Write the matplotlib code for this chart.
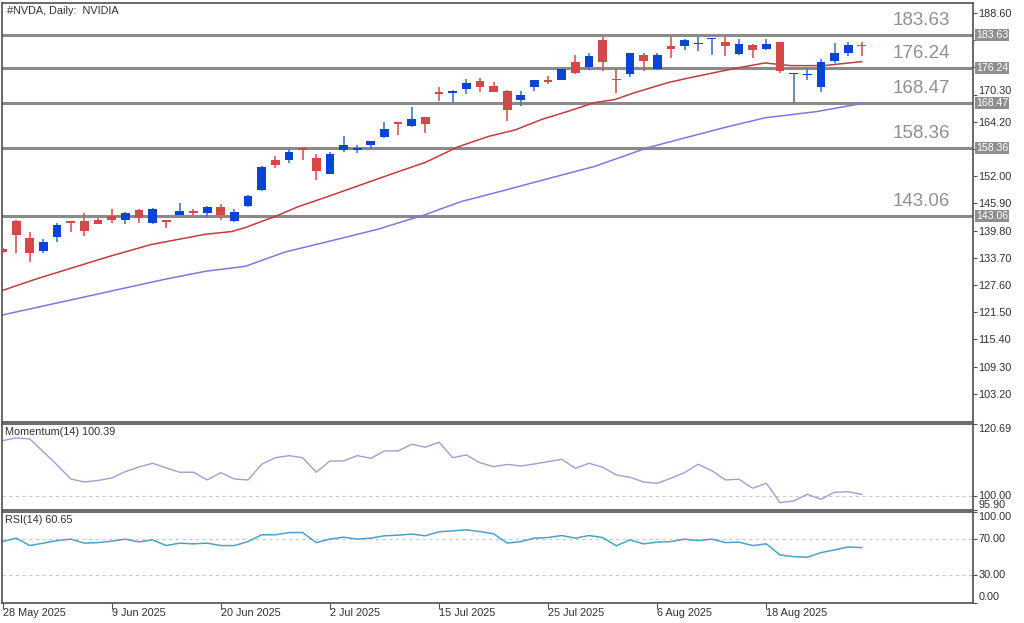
import numpy as np
import matplotlib
matplotlib.use('Agg')
import matplotlib.pyplot as plt
import matplotlib.transforms as mtransforms

plt.rcParams['font.family'] = ['Liberation Sans', 'DejaVu Sans']

# Daily bars, 28 May 2025 .. 27 Aug 2025 (bar index 0..63)
opens = [135.6, 141.9, 138.2, 135.2, 138.4, 141.9, 141.9, 142.3, 143.1, 142.2,
         144.4, 141.6, 142.1, 143.4, 144.2, 143.7, 145.2, 141.9, 145.3, 148.9,
         155.6, 155.6, 158.3, 156.0, 152.5, 157.8, 157.8, 158.9, 160.8, 164.1,
         163.3, 165.2, 170.9, 170.6, 171.5, 173.3, 172.3, 171.1, 169.0, 172.1,
         173.5, 173.6, 177.6, 176.6, 182.6, 173.9, 174.9, 179.2, 176.0, 181.1,
         181.1, 181.6, 182.7, 182.2, 179.4, 181.5, 180.5, 182.0, 174.9, 174.6,
         172.0, 177.9, 179.6, 181.5]
highs = [135.9, 142.3, 139.5, 137.9, 141.6, 142.0, 143.8, 142.7, 144.7, 144.0,
         144.7, 144.8, 142.3, 145.9, 144.7, 145.3, 145.8, 144.6, 147.7, 154.3,
         156.6, 158.1, 158.4, 156.9, 157.4, 161.0, 159.1, 160.0, 164.2, 164.2,
         167.6, 165.3, 172.1, 171.3, 173.8, 174.0, 173.1, 171.3, 171.0, 173.6,
         174.4, 176.2, 179.2, 179.6, 183.2, 176.0, 179.7, 179.7, 179.6, 183.3,
         182.8, 183.3, 183.0, 183.3, 182.7, 181.6, 182.7, 182.1, 175.2, 176.2,
         178.2, 181.8, 182.1, 182.0]
lows = [134.7, 134.9, 132.8, 134.9, 137.3, 139.4, 138.6, 141.2, 141.6, 141.2,
        141.6, 141.4, 140.5, 143.2, 143.4, 142.9, 142.3, 141.7, 145.1, 148.7,
        153.9, 155.0, 155.7, 151.1, 152.4, 157.4, 157.1, 158.1, 160.6, 161.3,
        163.1, 161.7, 168.8, 168.5, 170.5, 170.9, 170.8, 164.3, 167.8, 171.0,
        172.7, 173.5, 174.9, 175.9, 175.5, 170.7, 174.2, 175.5, 175.9, 178.5,
        180.2, 180.0, 179.2, 179.0, 179.2, 178.5, 180.4, 175.2, 168.5, 173.5,
        170.8, 177.4, 179.0, 179.0]
closes = [135.0, 138.8, 134.9, 137.3, 141.1, 141.6, 139.7, 141.4, 142.3, 143.8,
          142.7, 144.7, 141.7, 144.3, 143.8, 145.2, 143.2, 144.0, 147.5, 154.1,
          154.6, 157.5, 157.8, 153.1, 157.0, 159.0, 158.3, 159.8, 162.7, 163.7,
          164.8, 163.7, 170.4, 171.1, 172.9, 172.0, 170.9, 166.8, 170.3, 173.5,
          173.2, 176.1, 175.1, 179.0, 177.6, 173.5, 179.6, 177.9, 179.2, 180.6,
          182.6, 181.8, 182.9, 181.2, 181.7, 180.2, 181.7, 175.5, 175.1, 174.7,
          177.7, 179.6, 181.5, 181.2]

# moving averages at these bar positions
ma_fast_x = [0, 2.4, 7.8, 10.9, 14.9, 16.8, 17.8, 20.0, 21.7, 23.9, 26.3, 28.8,
             31.0, 33.4, 35.6, 37.6, 39.5, 41.4, 43.4, 44.9, 46.3, 48.8, 50.4,
             53.9, 55.9, 57.8, 60.2, 63.0]
ma_fast_y = [126.4, 128.9, 134.0, 136.7, 139.0, 139.6, 140.5, 143.0, 145.2,
             147.5, 150.1, 152.8, 155.1, 158.6, 160.9, 162.4, 164.7, 166.5,
             168.5, 169.2, 170.7, 173.0, 174.1, 176.3, 177.4, 176.8, 176.8, 177.7]
ma_slow_x = [0, 11.9, 14.9, 17.8, 20.7, 24.6, 27.5, 31.0, 33.6, 36.5, 39.8,
             43.4, 47.3, 50.4, 52.9, 55.9, 59.7, 63.0]
ma_slow_y = [120.9, 128.9, 130.7, 131.8, 135.0, 137.9, 140.1, 143.4, 146.3,
             148.6, 151.3, 154.2, 158.4, 160.9, 162.9, 165.1, 166.5, 168.3]

levels = [183.63, 176.24, 168.47, 158.36, 143.06]

momentum = [115.89, 116.67, 116.38, 112.63, 108.88, 104.84, 103.98, 104.41, 105.13, 106.95,
            108.30, 109.37, 108.02, 106.78, 106.78, 104.56, 106.66, 104.84, 104.56, 109.08,
            110.99, 111.56, 110.99, 106.78, 110.03, 110.03, 111.56, 110.81, 112.92, 112.92,
            114.85, 113.99, 115.43, 110.99, 111.76, 109.54, 108.39, 109.03, 108.59, 109.17,
            109.83, 110.52, 107.93, 109.37, 108.22, 106.00, 105.33, 103.98, 103.60, 105.05,
            106.66, 109.08, 107.24, 104.56, 104.76, 102.16, 103.60, 98.01, 98.50, 100.43,
            98.99, 101.01, 101.18, 100.39]
rsi = [67.3, 71.1, 62.9, 65.6, 68.4, 70.0, 65.6, 66.2, 67.8, 70.0,
       67.0, 69.2, 62.9, 65.6, 64.8, 65.6, 62.9, 62.9, 67.3, 74.8,
       74.8, 77.3, 77.3, 66.2, 70.0, 72.2, 70.0, 71.1, 73.7, 74.4,
       75.6, 73.7, 78.1, 79.2, 80.3, 78.4, 75.9, 65.6, 67.3, 71.1,
       71.8, 74.0, 71.1, 74.0, 71.8, 62.6, 69.2, 64.8, 66.7, 67.3,
       70.0, 68.4, 70.0, 66.2, 66.7, 62.9, 64.8, 52.6, 50.7, 50.0,
       55.1, 58.1, 61.4, 60.65]

date_pos = [0, 8, 16, 24, 32, 40, 48, 56]
date_labels = ['28 May 2025', '9 Jun 2025', '20 Jun 2025', '2 Jul 2025',
               '15 Jul 2025', '25 Jul 2025', '6 Aug 2025', '18 Aug 2025']

# scale ticks; the ones under a level box are not labelled (box covers them)
price_ticks = [188.60, 182.50, 176.40, 170.30, 164.20, 158.10, 152.00, 145.90,
               139.80, 133.70, 127.60, 121.50, 115.40, 109.30, 103.20]
hidden_ticks = [182.50, 176.40, 158.10, 170.30]

UP = '#0a44d6'
DOWN = '#d44848'
FRAME = '#505050'
TXT = '#303030'
XLIM = (-0.04, 71.15)

fig = plt.figure(figsize=(10.24, 6.23), dpi=100)
W, H = 1024, 623


def panel(top, bottom):
    ax = fig.add_axes([2 / W, 1 - bottom / H, 971 / W, (bottom - top) / H])
    for s in ax.spines.values():
        s.set_color(FRAME)
        s.set_linewidth(1.2)
    ax.set_xlim(*XLIM)
    ax.yaxis.tick_right()
    ax.tick_params(axis='y', direction='out', length=3, width=0.8, colors=FRAME,
                   labelsize=7.8, labelcolor=TXT, pad=1)
    ax.set_xticks([])
    return ax


# ---- price panel
ax = panel(3, 422)
ax.set_ylim(96.9, 190.84)
ax.set_yticks(price_ticks)
ax.set_yticklabels(['' if t in hidden_ticks else f'{t:.2f}' for t in price_ticks])

o = np.array(opens)
c = np.array(closes)
x = np.arange(len(o))
up = c >= o
ax.vlines(x[up], np.array(lows)[up], np.array(highs)[up], color='#4a78c0', lw=1.2, zorder=3)
ax.vlines(x[~up], np.array(lows)[~up], np.array(highs)[~up], color='#d45a5a', lw=1.2, zorder=3)
body_h = np.maximum(np.abs(c - o), 0.25)
body_b = np.minimum(o, c)
ax.bar(x[up], body_h[up], bottom=body_b[up], width=0.64, color=UP, lw=0, zorder=4)
ax.bar(x[~up], body_h[~up], bottom=body_b[~up], width=0.64, color=DOWN, lw=0, zorder=4)

ax.plot(ma_fast_x, ma_fast_y, color='#c43c3c', lw=1.1, zorder=2)
ax.plot(ma_slow_x, ma_slow_y, color='#7d78e0', lw=1.1, zorder=2)

tr = mtransforms.blended_transform_factory(ax.transAxes, ax.transData)
# 170.30 sits just above the 168.47 box, nudged up a little
ax.text(1.0056, 171.1, '170.30', transform=tr, ha='left', va='center',
        fontsize=7.8, color=TXT, clip_on=False)
for lv in levels:
    ax.axhline(lv, color='#8a8a8a', lw=2.2, zorder=1)
    ax.text(0.9765, lv + 1.4, f'{lv:.2f}', transform=tr, ha='right', va='bottom',
            fontsize=13.5, color='#909090')
    ax.text(1.003, lv, f'{lv:.2f}', transform=tr, ha='left', va='center',
            fontsize=7.6, color='white', clip_on=False, zorder=10,
            bbox=dict(boxstyle='square,pad=0.08', fc='#8f8f8f', ec='none'))

ax.text(5 / 971, 0.992, '#NVDA, Daily:  NVIDIA', transform=ax.transAxes,
        ha='left', va='top', fontsize=7.8, color=TXT)

# ---- momentum panel
am = panel(424, 510)
am.set_ylim(95.9, 120.69)
am.set_yticks([120.69, 100.0, 95.9])
am.set_yticklabels(['120.69', '100.00', '95.90'])
for lab, va in zip(am.get_yticklabels(), ['top', 'center', 'bottom']):
    lab.set_verticalalignment(va)
am.axhline(100, color='#c8c8c8', lw=0.8, ls=(0, (3, 3)))
am.plot(x, momentum, color='#a49cd4', lw=1.0)
am.text(3 / 971, 0.97, 'Momentum(14) 100.39', transform=am.transAxes,
        ha='left', va='top', fontsize=7.8, color=TXT)

# ---- RSI panel
ar = panel(512, 602.5)
ar.set_ylim(0, 100)
ar.set_yticks([100, 70, 30, 0])
ar.set_yticklabels(['100.00', '70.00', '30.00', '0.00'])
for lab, va in zip(ar.get_yticklabels(), ['top', 'center', 'center', 'bottom']):
    lab.set_verticalalignment(va)
ar.axhline(70, color='#c8c8c8', lw=0.8, ls=(0, (3, 3)))
ar.axhline(30, color='#c8c8c8', lw=0.8, ls=(0, (3, 3)))
ar.plot(x, rsi, color='#4aa3c8', lw=1.1)
ar.text(3 / 971, 0.97, 'RSI(14) 60.65', transform=ar.transAxes,
        ha='left', va='top', fontsize=7.8, color=TXT)

ar.set_xticks(date_pos)
ar.set_xticklabels(date_labels)
ar.tick_params(axis='x', direction='out', length=4, width=0.8, colors=FRAME,
               labelsize=7.8, labelcolor=TXT, pad=0)
for lab in ar.get_xticklabels():
    lab.set_horizontalalignment('left')

fig.savefig('out.png', dpi=100)
